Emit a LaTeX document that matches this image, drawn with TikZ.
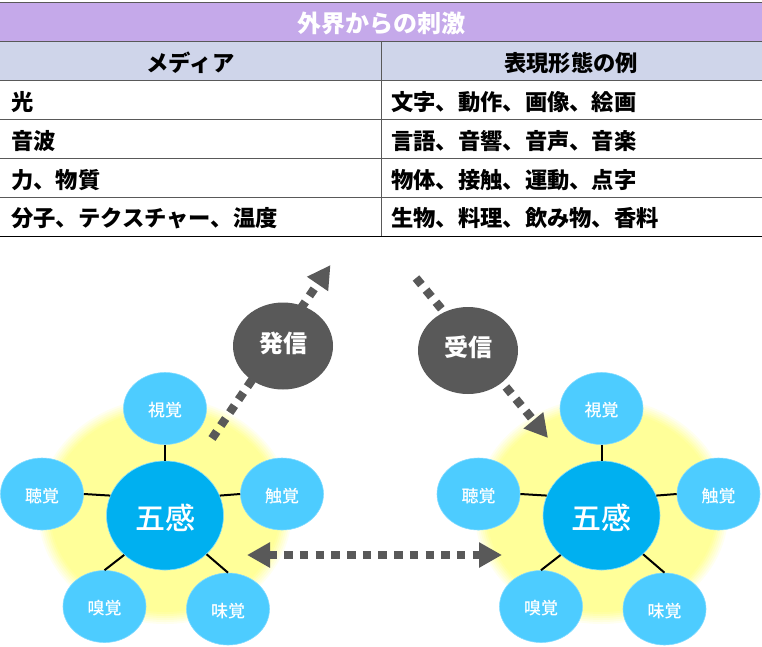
\documentclass[tikz,border=0pt]{standalone}
\usepackage{fontspec}
\setmainfont{Noto Sans CJK JP}
\newfontfamily\gofont{Noto Sans CJK JP Medium}
\usetikzlibrary{arrows.meta,shapes.geometric}
\definecolor{titlebg}{HTML}{C5A9EA}
\definecolor{headbg}{HTML}{CFD5EA}
\definecolor{rule}{HTML}{595959}
\definecolor{glow}{HTML}{FFFF99}
\definecolor{sense}{HTML}{4DCCFF}
\definecolor{core}{HTML}{00B0F0}
\tikzset{
	cell/.style={inner sep=0pt, text height=19pt, text depth=3pt, font=\fontsize{22.3}{22.3}\selectfont\bfseries, text=black},
	sensenode/.style={ellipse, fill=sense, draw=sense!70!white, line width=0.6pt, minimum width=83pt, minimum height=72pt, inner sep=0pt, text=white, text height=16pt, text depth=0pt, font=\fontsize{17}{17}\gofont},
	corenode/.style={ellipse, fill=core, draw=sense!70!white, line width=0.6pt, minimum width=117pt, minimum height=109pt, inner sep=0pt, text=white, text height=28pt, text depth=0pt, font=\fontsize{30}{30}\gofont},
	signode/.style={ellipse, fill=rule, minimum width=100pt, minimum height=87pt, inner sep=0pt, text=white, text height=19pt, text depth=7pt, font=\fontsize{24}{24}\selectfont\bfseries},
	spoke/.style={line width=2pt, color=black},
	flow/.style={line width=8.5pt, color=rule, dash pattern=on 8.5pt off 7.2pt},
}
\begin{document}
\begin{tikzpicture}[x=1pt, y=-1pt]
	\useasboundingbox (0, 0) rectangle (762, 646);

	%%%%% table %%%%%
	\fill[titlebg] (0, 2) rectangle (762, 41);
	\fill[headbg] (0, 41) rectangle (762, 80);
	\draw[line width=1.2pt, color=rule] (0, 2.5) -- (762, 2.5);
	\foreach \y in {41.5, 80.5, 119.5, 158.5, 197.5} {
		\draw[line width=1pt, color=rule] (0, \y) -- (762, \y);
	}
	\draw[line width=1pt, color=black] (0, 236.5) -- (762, 236.5);
	\draw[line width=0.8pt, color=rule] (381, 41) -- (381, 236);

	\node[cell, text=white, font=\fontsize{24}{24}\selectfont\bfseries] (title) at (381, 24) {外界からの刺激};
	\node[cell] (headm) at (190.5, 63) {メディア};
	\node[cell] (heade) at (571, 63) {表現形態の例};

	\foreach \i/\y/\m/\e in {
		1/102/光/{文字、動作、画像、絵画},
		2/141/音波/{言語、音響、音声、音楽},
		3/180/力、物質/{物体、接触、運動、点字},
		4/218/分子、テクスチャー、温度/{生物、料理、飲み物、香料}} {
		\node[cell, anchor=west] (m\i) at (11, \y) {\m};
		\node[cell, anchor=west] (e\i) at (391, \y) {\e};
	}

	%%%%% senses %%%%%
	\foreach \g/\dx in {l/0, r/436.5} {
		\begin{scope}[xshift=\dx pt]
			\foreach \d/\c in {0/15, 2/30, 4/45, 6/60, 8/75, 10/90, 12/100} {
				\fill[glow!\c!white] (165, 511) ellipse ({127-\d} and {113-\d});
			}
			\node[corenode] (\g core) at (165, 515.5) {五感};
			\node[sensenode] (\g top) at (165, 408.5) {視覚};
			\node[sensenode] (\g left) at (42, 494) {聴覚};
			\node[sensenode] (\g right) at (282, 494) {触覚};
			\node[sensenode] (\g bl) at (104.5, 606.5) {嗅覚};
			\node[sensenode] (\g br) at (228, 609) {味覚};
			\draw[spoke] (\g top.south) -- (\g core.north);
			\draw[spoke] (\g left.east) -- (\g core.160);
			\draw[spoke] (\g right.west) -- (\g core.20);
			\draw[spoke] (\g bl.north) -- (\g core.224);
			\draw[spoke] (\g br.north) -- (\g core.317);
		\end{scope}
	}

	%%%%% arrows %%%%%
	\coordinate (sendfrom) at (212, 438.5);
	\coordinate (sendto) at (330.5, 265);
	\coordinate (recvfrom) at (416, 278);
	\coordinate (recvto) at (548, 438);
	\coordinate (bothl) at (247, 555);
	\coordinate (bothr) at (502, 555);

	\draw[flow, -{Triangle[length=23pt, width=24pt]}] (sendfrom) -- (sendto);
	\draw[flow, -{Triangle[length=23pt, width=24pt]}] (recvfrom) -- (recvto);
	\draw[flow, {Triangle[length=23pt, width=24pt]}-{Triangle[length=23pt, width=24pt]}] (bothl) -- (bothr);

	\node[signode] (send) at (283, 346) {発信};
	\node[signode] (recv) at (468, 350.5) {受信};
\end{tikzpicture}
\end{document}
